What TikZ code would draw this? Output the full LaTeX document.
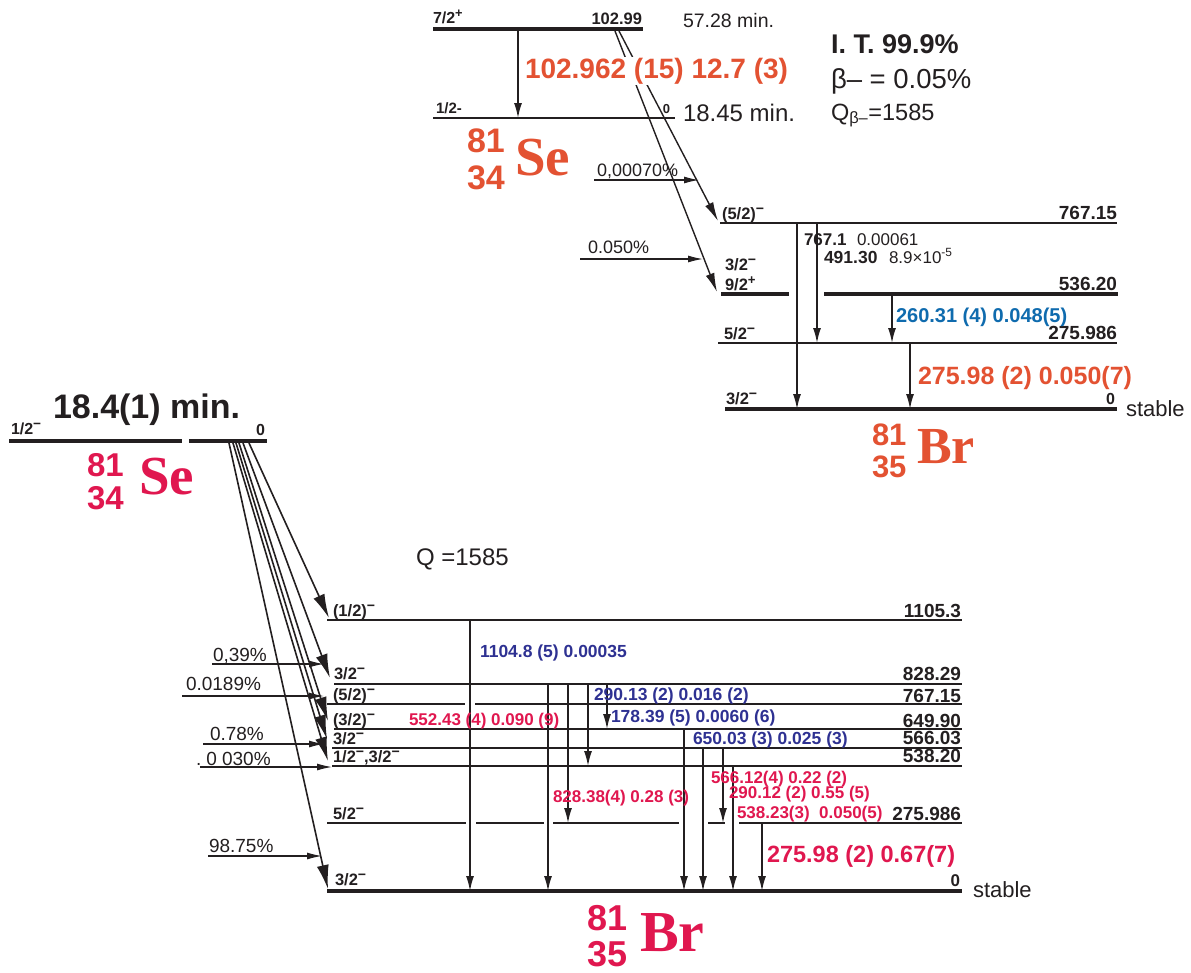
\documentclass[tikz,border=0pt]{standalone}
\usepackage{fontspec}
\setmainfont{Liberation Sans}
\newfontfamily\serifbold{Liberation Serif}
\usetikzlibrary{arrows.meta}
\definecolor{orng}{HTML}{E35232}
\definecolor{crim}{HTML}{E0174F}
\definecolor{dblue}{HTML}{2E3192}
\definecolor{lblue}{HTML}{0F6BAE}
\definecolor{ink}{HTML}{231F20}
\newcommand{\mn}{\raisebox{0.36em}{\scalebox{0.85}{\char"2212}}}
\newcommand{\pl}{\raisebox{0.32em}{\scalebox{0.8}{+}}}
\newcommand{\fs}[1]{\fontsize{#1}{#1}\selectfont}
\begin{document}
\begin{tikzpicture}[x=1pt,y=-1pt,
  every node/.style={inner sep=0pt,outer sep=0pt,text=ink},
  lvl/.style={draw=ink,line width=1.8pt},
  lvlthick/.style={draw=ink,line width=4.5pt},
  gam/.style={draw=ink,line width=1.5pt,-{Latex[length=15pt,width=8pt]}},
  betat/.style={draw=ink,line width=1.4pt,-{Latex[length=19pt,width=9pt]}},
  betab/.style={draw=ink,line width=1.6pt,-{Latex[length=24pt,width=12pt]}},
  pct/.style={draw=ink,line width=1.2pt,-{Latex[length=15pt,width=7pt]}},
  spin/.style={anchor=base west,font=\bfseries\fs{16.5}},
  ener/.style={anchor=base east,font=\bfseries\fs{19}},
  pcttext/.style={anchor=base west,font=\fs{18}},
  bwl/.style={anchor=base west,font=\bfseries\fs{17.5},text=dblue},
  cwl/.style={anchor=base west,font=\bfseries\fs{17},text=crim},
  num/.style={anchor=base west,font=\bfseries\fs{#1}},
  sym/.style={anchor=base west,font=\serifbold\bfseries\fs{#1}}
]
\useasboundingbox (0,0) rectangle (1191,972);

% ================= TOP: 81mSe -> 81Br =================
\draw[lvlthick] (433,29) -- (643,29);
\draw[lvl] (433,118) -- (675,118);
\node[spin,font=\bfseries\fs{16}] (s72) at (433,23) {7/2\pl};
\node[ener,font=\bfseries\fs{16.5}] (e10299) at (642,24) {102.99};
\node[anchor=base west,font=\fs{19.5}] (t5728) at (683,27) {57.28 min.};
\node[anchor=base west,font=\bfseries\fs{27}] (it) at (831,53) {I. T. 99.9\%};
\node[anchor=base west,font=\fs{27.5}] (bm) at (831,88) {β– = 0.05\%};
\node[anchor=base west,font=\fs{23.5}] (qb) at (831,120) {Q\textsubscript{β–}=1585};
\node[spin,font=\bfseries\fs{15}] (s12t) at (436,113) {1/2-};
\node[ener,font=\bfseries\fs{13}] (e0t) at (670,113) {0};
\node[anchor=base west,font=\fs{24}] (t1845) at (683,121) {18.45 min.};

\coordinate (it1) at (518,29);
\coordinate (it2) at (518,118);
\draw[gam] (it1) -- (it2);

% beta branches from isomer
\coordinate (b1s) at (619,31);
\coordinate (b1e) at (718,221);
\coordinate (b2s) at (615,31);
\coordinate (b2e) at (717,292);
\draw[betat] (b1s) -- (b1e);
\draw[betat] (b2s) -- (b2e);
\node[anchor=base west,font=\bfseries\fs{28},text=orng,fill=white,inner sep=1pt] (g103) at (524,78) {102.962 (15) 12.7 (3)};

\node[num=34,text=orng] (a81t) at (467,152) {81};
\node[num=34,text=orng] (z34t) at (467,189) {34};
\node[sym=55,text=orng] (set) at (515,175) {Se};

\coordinate (p1s) at (594,180);
\coordinate (p1e) at (699,180);
\draw[pct] (p1s) -- (p1e);
\node[pcttext] (p1t) at (597,176) {0,00070\%};
\coordinate (p2s) at (580,259);
\coordinate (p2e) at (703,259);
\draw[pct] (p2s) -- (p2e);
\node[pcttext] (p2t) at (588,253) {0.050\%};

% Br levels (top)
\draw[lvl] (720,223) -- (1117,223);
\node[spin] (s52a) at (722,219) {(5/2)\mn};
\node[ener] (e767a) at (1117,219) {767.15};
\node[spin] (s32a) at (725,270) {3/2\mn};
\node[spin] (s92a) at (725,290) {9/2\pl};
\draw[lvlthick] (721,294) -- (789,294);
\draw[lvlthick] (824,294) -- (1118,294);
\node[ener] (e536a) at (1117,290) {536.20};
\draw[lvl] (718,343) -- (1117,343);
\node[spin] (s52b) at (724,339) {5/2\mn};
\node[ener] (e275a) at (1117,339) {275.986};
\draw[lvlthick] (725,409) -- (1117,409);
\node[spin] (s32b) at (726,404) {3/2\mn};
\node[ener,font=\bfseries\fs{16}] (e0a) at (1115,404) {0};
\node[anchor=base west,font=\fs{22}] (st1) at (1126,416) {stable};

\coordinate (c1s) at (797,223);
\coordinate (c1e) at (797,409);
\coordinate (c2s) at (817,223);
\coordinate (c2e) at (817,343);
\coordinate (c3s) at (892,294);
\coordinate (c3e) at (892,343);
\coordinate (c4s) at (910,343);
\coordinate (c4e) at (910,409);
\draw[gam] (c1s) -- (c1e);
\draw[gam] (c2s) -- (c2e);
\draw[gam] (c3s) -- (c3e);
\draw[gam] (c4s) -- (c4e);
\node[anchor=base west,font=\bfseries\fs{17}] (g767) at (804,245) {767.1};
\node[anchor=base west,font=\fs{17}] (i767) at (857,245) {0.00061};
\node[anchor=base west,font=\bfseries\fs{17.5}] (g491) at (824,263) {491.30};
\node[anchor=base west,font=\fs{17}] (i491) at (889,263) {8.9×10\textsuperscript{-5}};
\node[anchor=base west,font=\bfseries\fs{20},text=lblue] (g260) at (896,322) {260.31 (4) 0.048(5)};
\node[anchor=base west,font=\bfseries\fs{25},text=orng] (g276a) at (918,384) {275.98 (2) 0.050(7)};

\node[num=31,text=orng] (a81b) at (872,445) {81};
\node[num=31,text=orng] (z35b) at (872,477) {35};
\node[sym=52,text=orng] (brb) at (917,463) {Br};

% ================= BOTTOM: 81Se -> 81Br =================
\node[anchor=base west,font=\bfseries\fs{34}] (t184) at (53,418) {18.4(1) min.};
\draw[lvlthick] (9,441) -- (182,441);
\draw[lvlthick] (189,441) -- (267,441);
\node[spin,font=\bfseries\fs{16}] (s12l) at (11,434) {1/2\mn};
\node[ener,font=\bfseries\fs{16}] (e0l) at (265,435) {0};
\node[num=33,text=crim] (a81l) at (87,476) {81};
\node[num=33,text=crim] (z34l) at (87,509) {34};
\node[sym=55,text=crim] (sel) at (139,494) {Se};
\node[anchor=base west,font=\fs{24}] (q) at (416,565) {Q =1585};

% levels
\draw[lvl] (327,620) -- (962,620);
\node[spin] (l1105) at (333,616) {(1/2)\mn};
\node[ener] (e1105) at (961,617) {1105.3};
\draw[lvl] (334,684) -- (962,684);
\node[spin] (l828) at (334,679) {3/2\mn};
\node[ener] (e828) at (961,680) {828.29};
\draw[lvl] (327,704) -- (465,704);
\draw[lvl] (475,704) -- (962,704);
\node[spin] (l767) at (333,700) {(5/2)\mn};
\node[ener] (e767) at (961,702) {767.15};
\draw[lvl] (334,729) -- (962,729);
\node[spin] (l650) at (333,725) {(3/2)\mn};
\node[ener] (e650) at (961,727) {649.90};
\draw[lvl] (332,748) -- (962,748);
\node[spin] (l566) at (333,744) {3/2\mn};
\node[ener] (e566) at (961,744) {566.03};
\draw[lvl] (332,766) -- (962,766);
\node[spin] (l538) at (333,762) {1/2\mn,3/2\mn};
\node[ener] (e538) at (961,762) {538.20};
\draw[lvl] (327,823) -- (466,823);
\draw[lvl] (476,823) -- (544,823);
\draw[lvl] (553,823) -- (679,823);
\draw[lvl] (708,823) -- (725,823);
\draw[lvl] (739,823) -- (962,823);
\node[spin] (l276) at (333,819) {5/2\mn};
\node[ener] (e276) at (961,820) {275.986};
\draw[lvlthick] (327,891) -- (962,891);
\node[spin] (l0) at (335,885) {3/2\mn};
\node[ener,font=\bfseries\fs{17}] (e0) at (960,886) {0};
\node[anchor=base west,font=\fs{22}] (st2) at (973,897) {stable};

% beta feeding
\coordinate (bs0) at (229,443);
\coordinate (bs1) at (233,443);
\coordinate (bs2) at (236,443);
\coordinate (bs3) at (239,443);
\coordinate (bs4) at (243,443);
\coordinate (bs5) at (249,443);
\coordinate (bt0) at (328,889);
\coordinate (bt1) at (328,761);
\coordinate (bt2) at (327,739);
\coordinate (bt3) at (328,721);
\coordinate (bt4) at (330,678);
\coordinate (bt5) at (329,618);
\draw[betab] (bs0) -- (bt0);
\draw[betab] (bs1) -- (bt1);
\draw[betab] (bs2) -- (bt2);
\draw[betab] (bs3) -- (bt3);
\draw[betab] (bs4) -- (bt4);
\draw[betab] (bs5) -- (bt5);

% percentage arrows
\coordinate (q1s) at (212,664); \coordinate (q1e) at (324,664);
\coordinate (q2s) at (182,696); \coordinate (q2e) at (324,696);
\coordinate (q3s) at (203,744); \coordinate (q3e) at (324,744);
\coordinate (q4s) at (200,767); \coordinate (q4e) at (332,767);
\coordinate (q5s) at (208,856); \coordinate (q5e) at (322,856);
\draw[pct] (q1s) -- (q1e);
\draw[pct] (q2s) -- (q2e);
\draw[pct] (q3s) -- (q3e);
\draw[pct] (q4s) -- (q4e);
\draw[pct] (q5s) -- (q5e);
\node[pcttext,font=\fs{19}] (q1t) at (213,661) {0,39\%};
\node[pcttext,font=\fs{19}] (q2t) at (186,690) {0.0189\%};
\node[pcttext,font=\fs{19}] (q3t) at (210,740) {0.78\%};
\node[pcttext,font=\fs{19}] (q4t) at (196,765) {.\hspace{5pt}0 030\%};
\node[pcttext,font=\fs{19}] (q5t) at (209,852) {98.75\%};

% gamma transitions
\coordinate (d1s) at (470,620); \coordinate (d1e) at (470,891);
\coordinate (d2s) at (548,684); \coordinate (d2e) at (548,891);
\coordinate (d3s) at (568,684); \coordinate (d3e) at (568,823);
\coordinate (d4s) at (588,684); \coordinate (d4e) at (588,766);
\coordinate (d5s) at (607,684); \coordinate (d5e) at (607,729);
\coordinate (d6s) at (684,729); \coordinate (d6e) at (684,891);
\coordinate (d7s) at (703,748); \coordinate (d7e) at (703,891);
\coordinate (d8s) at (723,748); \coordinate (d8e) at (723,823);
\coordinate (d9s) at (733,766); \coordinate (d9e) at (733,891);
\coordinate (d10s) at (762,823); \coordinate (d10e) at (762,891);
\foreach \i in {1,...,10} {\draw[gam] (d\i s) -- (d\i e);}

\node[bwl] (w1104) at (480,657) {1104.8 (5) 0.00035};
\node[bwl] (w290a) at (594,700) {290.13 (2) 0.016 (2)};
\node[bwl] (w178) at (611,722) {178.39 (5) 0.0060 (6)};
\node[bwl] (w650) at (693,744) {650.03 (3) 0.025 (3)};
\node[cwl] (w552) at (409,725) {552.43 (4) 0.090 (9)};
\node[cwl] (w566) at (711,783) {566.12(4) 0.22 (2)};
\node[cwl] (w290b) at (729,798) {290.12 (2) 0.55 (5)};
\node[cwl] (w828) at (553,802) {828.38(4) 0.28 (3)};
\node[cwl] (w538) at (737,818) {538.23(3)\ \ 0.050(5)};
\node[cwl,font=\bfseries\fs{23.5}] (w276) at (767,862) {275.98 (2) 0.67(7)};

\node[num=36,text=crim] (a81r) at (587,930) {81};
\node[num=36,text=crim] (z35r) at (587,966) {35};
\node[sym=58,text=crim] (brr) at (640,951) {Br};
\end{tikzpicture}
\end{document}
